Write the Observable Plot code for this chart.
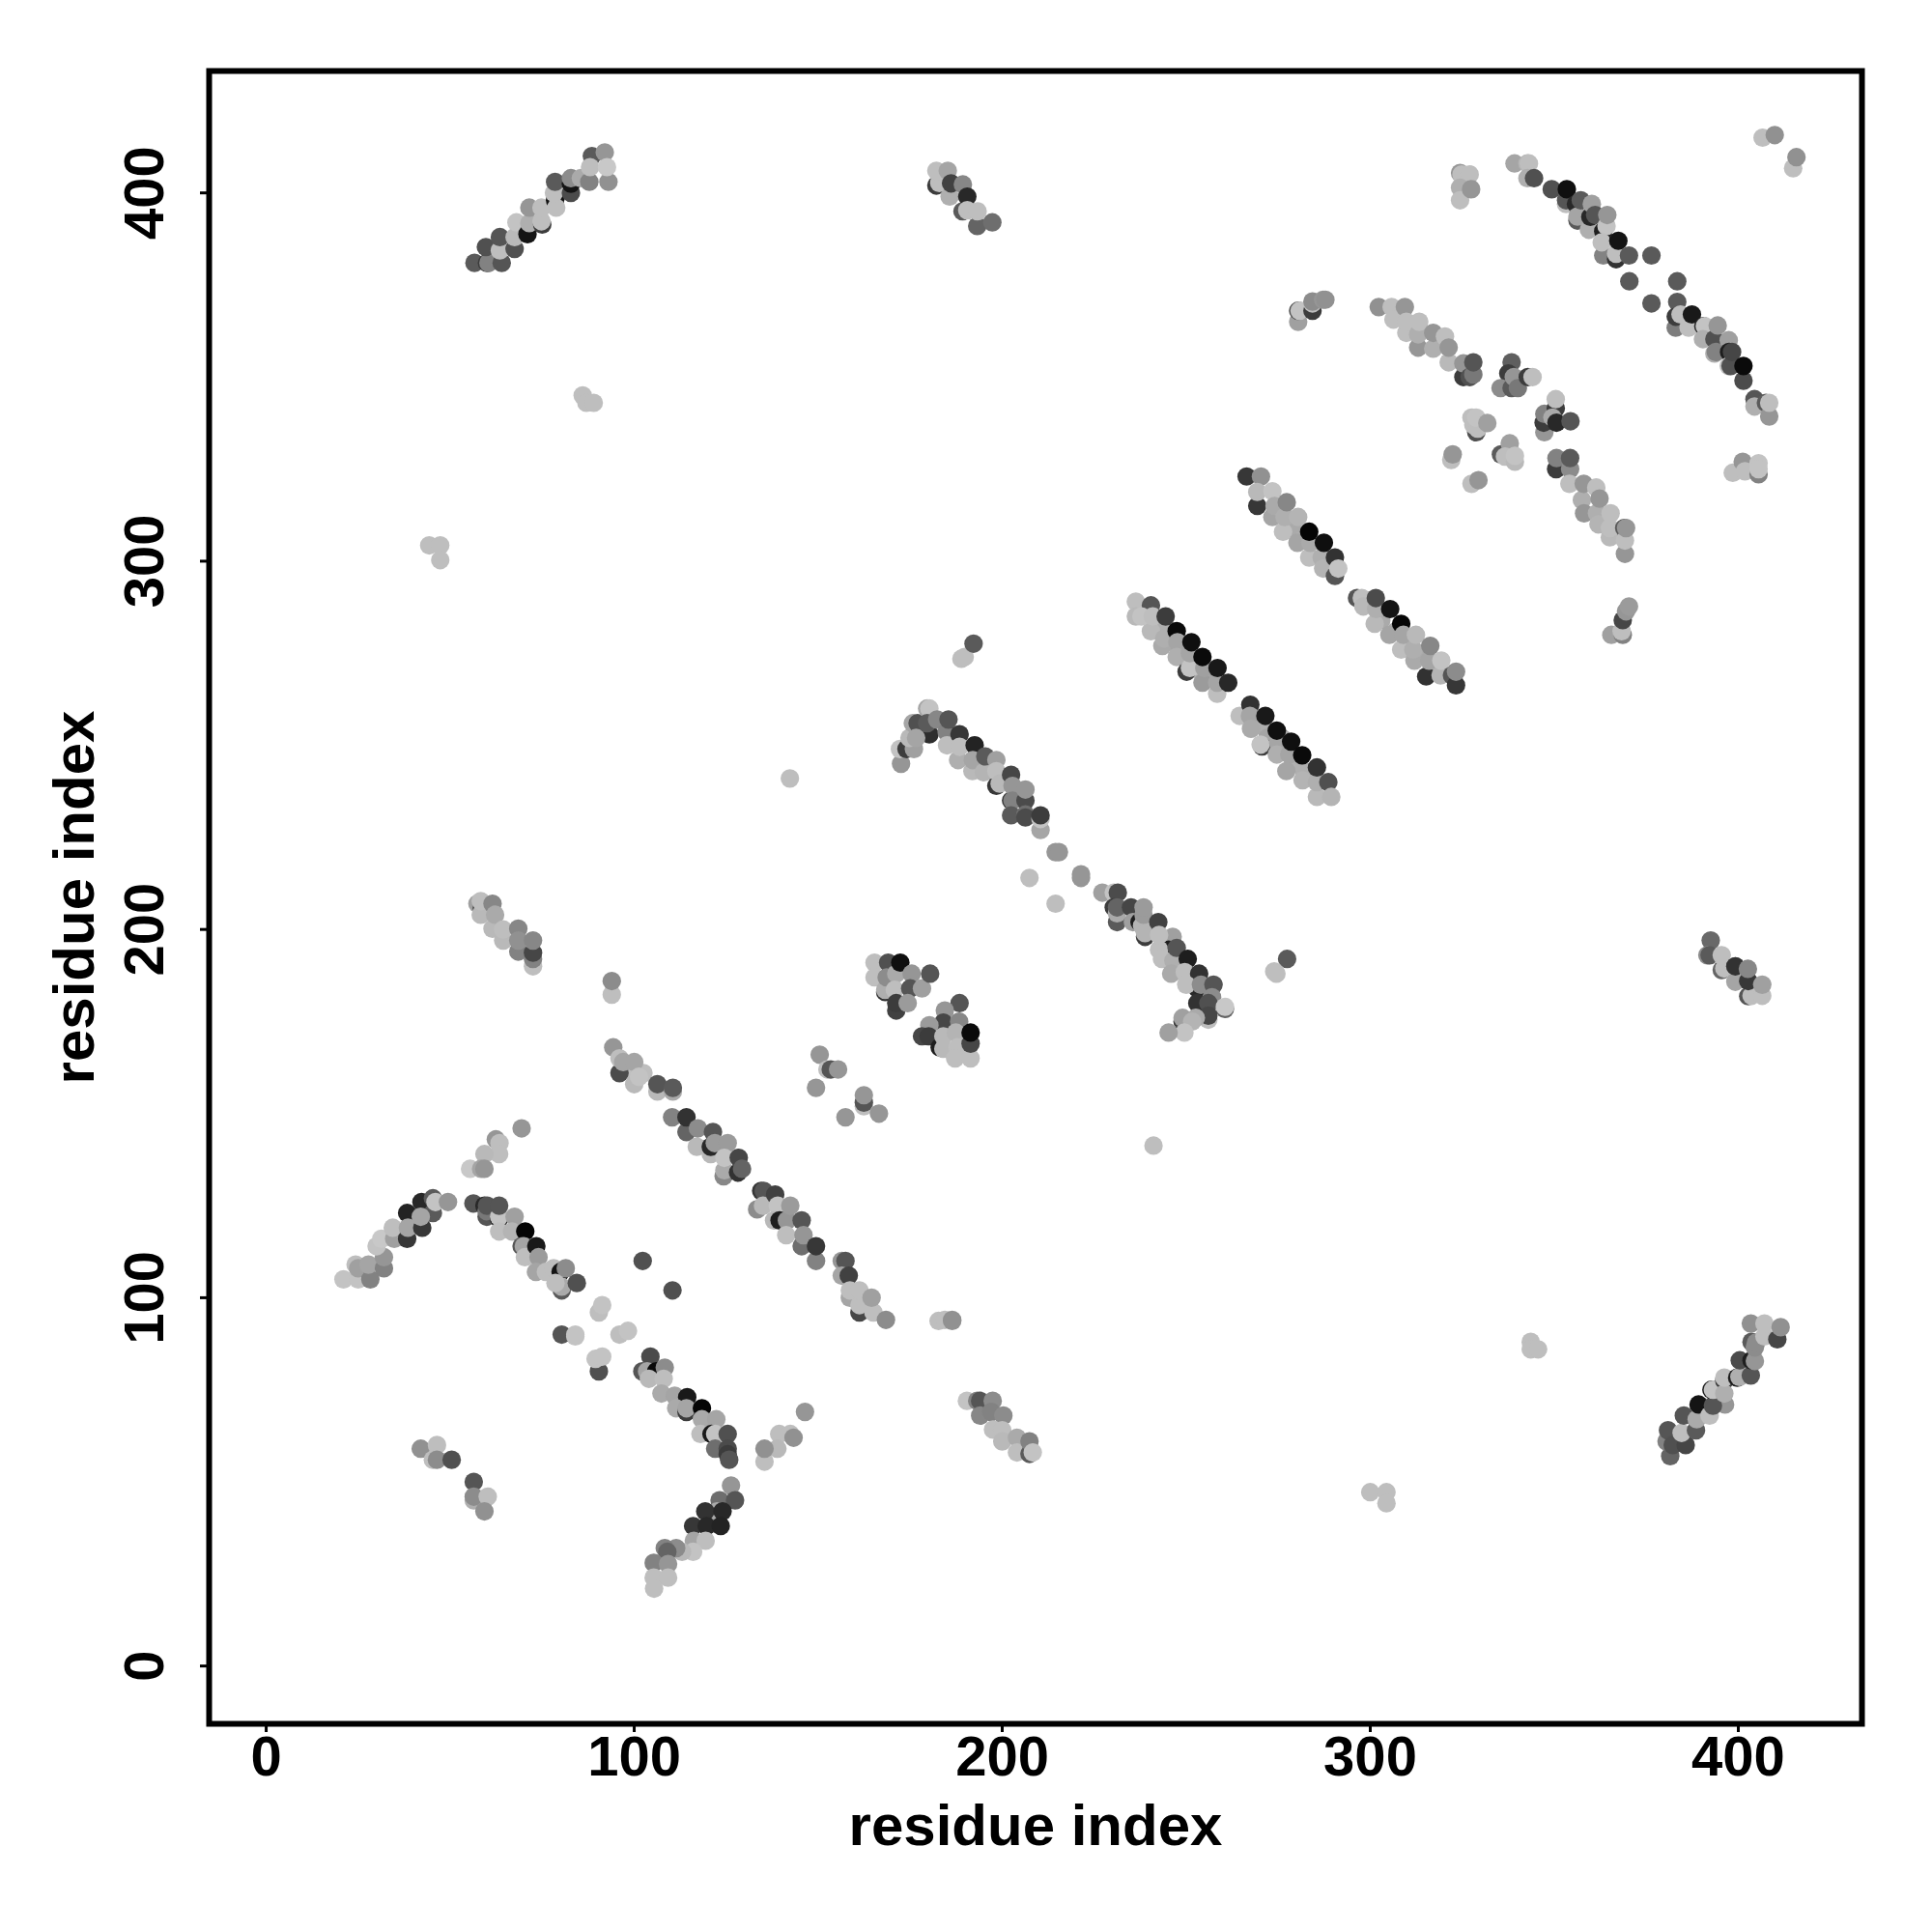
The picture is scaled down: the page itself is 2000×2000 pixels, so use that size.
<!DOCTYPE html>
<html><head><meta charset="utf-8">
<script src="https://cdn.jsdelivr.net/npm/d3@7"></script>
<script src="https://cdn.jsdelivr.net/npm/@observablehq/plot@0.6"></script>
<style>html,body{margin:0;padding:0;background:#fff}</style>
</head><body><div id="chart"></div>
<script>
// each contact: [residue i, residue j, grey level of the contact (0 black .. 255 white)]
const helixRise=[[21,105,195],[25,105,195],[24.3,109,190],[25,108,160],[28.3,105,130],[27.8,109,165],[32,108,130],[32,111,150],[30,114,195],[31.3,116,200],[34.8,116,160],[34.4,119,190],[38.3,116,55],[38.3,123,35],[38.5,119,165],[42.4,119,55],[42.2,126,40],[45.3,123,90],[42,122,165],[45.3,127,90],[46,126,195],[49.4,126,150]];
const riseB=[[69.4,146,150],[62.4,143,150],[63.4,142,190],[63.3,139,190],[59.3,139,185],[55.4,135,200],[58.4,135,165],[59.3,135,150]];
const fallC=[[56.3,125.6,85],[59.3,125,40],[59.9,122,85],[59.9,123.5,120],[60,125,85],[63.3,121.5,30],[63.3,122,195],[63.3,125,85],[63.3,118,190],[67.5,122,160],[66.8,118,180],[70.4,118,5],[69.4,114,85],[70,114,165],[70.3,111,190],[73.4,114,25],[74,111,155],[73.3,107,165],[76,107,190],[78.1,108,190],[80,107,20],[81.4,108,140],[80.3,102,90],[80.3,103,170],[78.6,104,190],[84.4,104,80]];
const gapC=[[90.4,96,190],[91.3,98,195],[80.3,90,85],[84,90,195],[84,89.5,195],[96,90,190],[98.3,91,195],[90.4,80,80],[89.5,83.4,195],[91.3,84,195],[102.3,110,80],[110.4,102,80]];
const fallD=[[104.4,84,75],[102.2,80,85],[103.5,80,165],[106,80,10],[104,78,185],[108.3,81,140],[108,78,190],[107.4,74,170],[111,73.4,165],[114.4,73,25],[111.4,70,170],[114.2,69,60],[114.2,70,165],[118.4,70,5],[118.4,67,170],[122.3,67,165],[118,63,190],[121,63,25],[122,63,195],[122,59,110],[125.4,63,80],[125.4,59,75],[125.4,57.5,60],[125.8,56,85]];
const spotE=[[42,59,145],[46.4,60,190],[45.3,56,190],[46.4,56,140],[50.4,56,80],[56.4,50,85],[56.4,45,175],[56.4,46,140],[60.2,46,190],[59.3,42,145]];
const riseF=[[126.3,49,150],[123.2,45,110],[122.5,42,170],[119.3,42,50],[127.4,45,85],[124,42,40],[116,38,55],[119.7,38,40],[123.5,38,35],[116.2,34,165],[119.4,34,190],[116,31,195],[113,31,185],[111.4,32,140],[108.3,32,130],[109,31,100],[105.3,28,130],[109.2,27.7,150],[105.3,24,190],[109.2,24,190],[105.4,21,190]];
const riseG=[[146.4,69,150],[139.4,63,190],[142.4,63,190],[143.3,62,145],[138.9,59,185],[135.4,55.5,190],[135.4,59,145]];
const fallH=[[100,161,190],[102.5,161,190],[94.3,168,150],[96,161,75],[96,165,190],[97,164,165],[100,164,165],[100,158,185],[101.3,160,195],[106.3,156,185],[106.3,158,85],[110.5,156,170],[110.5,157,90],[110.3,149,130],[114.2,145,100],[114.2,149,50],[117,141,185],[117.3,146,140],[120.8,139,185],[120.8,141,40],[121.4,145,85],[121.9,142,155],[125.4,142,155],[124.3,133,135],[124.5,134.6,170],[124.5,138,195],[128.2,134,50],[128.4,138,70],[129.3,135,100]];
const fallI=[[133.4,124,140],[134.5,129,55],[135.2,129,85],[135,125,185],[138.3,128,65],[139,125,195],[138,121,185],[139.5,121,30],[141.5,121,150],[142.4,125,155],[141.3,117,190],[145.5,121,85],[145.5,114,110],[146,117,150],[149.4,110,130],[149.4,114,55]];
const fallJ=[[156.4,110,150],[157.4,110,85],[156.4,106,165],[158.3,106,65],[158.6,100,165],[158.6,102,190],[161.2,96,70],[165,96,190],[161.2,98,190],[161.2,102,190],[164.5,100,160],[168.4,94,140]];
const spotK=[[182.7,93.7,190],[184.4,94,190],[186.4,94,145],[186.4,93.7,145]];
const fallL=[[190.4,72,195],[193.2,72,130],[194,72,85],[197.4,72,140],[194,68,135],[197,69,130],[200.3,68,140],[197.5,64.2,190],[200,64,190],[200,61,185],[204,62,170],[204,58,190],[207.4,57.6,90],[207.4,61,130],[208.3,58,195]];
const spotM=[[150.4,166,150],[152.5,162,190],[153.4,162,85],[155.4,162,150],[149.4,157,150],[162.4,152,190],[162.4,153,85],[162.4,155,150],[157.4,149,150],[166.5,150,150]];
const blockN=[[165.3,191,190],[165.3,187,190],[168.2,183,50],[168.2,183.6,175],[169,191,80],[168.6,187,140],[171.2,188,170],[170.8,183.6,190],[172.3,191,15],[175.4,188,150],[171.2,178,65],[171.2,180,60],[175,184,85],[178.2,184,160],[180.4,188,85],[174.3,180,155]];
const blockO=[[188.4,180,85],[184.4,178,150],[184,174.7,70],[188.3,175,135],[180.2,174,155],[178.2,171,70],[180,171,60],[183,168,30],[184,171,185],[184,167.6,185],[187.4,172,180],[187.9,168,190],[187.2,165,190],[191.4,165,190],[191.4,169,70],[191.4,172,10]];
const fallP=[[172.5,245,150],[172.2,249,195],[174,249,60],[176,249,160],[174.8,252,185],[175.7,256,165],[177,256,80],[179.6,260,165],[180.2,260,195],[180.2,253,45],[179.6,256,90],[176.6,252,165],[182.3,257,135],[184.9,253.6,130],[185.4,257,85],[185,250,190],[188.4,253,55],[188,246,175],[188.4,249.6,190],[192.5,250,35],[191.9,243,185],[192,246,165],[195,242.7,180],[195.4,247,90],[198.4,239,55],[198.4,246,160],[198.4,243,190],[199.3,239.6,185],[202.4,242,70],[202.4,235,60],[202.8,239,150],[202.8,235,130],[202.4,231,90],[206.3,235,75],[206.3,238,150],[206.3,231.2,110],[206.3,230.4,75],[210.4,227,165],[210.4,230,195],[210.4,231,60]];
const spotQ=[[214.5,221,150],[215.4,221,150],[221.4,214,150],[221.4,215,150],[207.4,214,190],[214.5,207,190]];
const fallR=[[227.2,210,160],[230.3,210,195],[231.4,210,75],[230.3,206,60],[231.2,202,90],[231.2,204.4,170],[231.2,206,100],[235,206,70],[235.5,202,160],[237.3,202,30],[238,201,180],[238.4,204,155],[238.4,206,155],[238.8,198,60],[238.8,199,180],[242.4,202,65],[246.3,198,160],[245.2,194.5,30],[242.6,194.5,190],[243.4,192,190],[242.6,198.5,190],[246.5,191.5,175],[247.4,195,85],[250.4,192,30],[245.9,188,170],[249.6,188.4,190],[253.5,188,50],[253,184,40],[250,185,190],[254,185,140],[257.4,185,85],[253,180,50],[257,181.6,140],[256,180,80],[260.5,178.4,100],[260.5,179,200],[256,175.5,190],[256,176.6,70],[249,175,60],[249,176,160],[252.6,176,170],[251.6,175,180],[249.5,172,195],[245.2,172,160]];
const spotS=[[277.4,192,90],[273.9,188.6,190],[274.5,188,190]];
const strandT=[[244.5,282,175],[248,276,170],[252,272,175],[256,269,165],[254,270,180],[236.3,289,190],[236.3,285,185],[240.4,288,85],[240.4,281,185],[237.8,285,195],[240.9,285,190],[244.4,285,60],[243.5,277,170],[244,279,175],[247.4,281,10],[247.6,278,165],[247.4,274,175],[250.1,270,60],[251,271,195],[251,275,165],[251.4,278,15],[254.4,267,155],[254.9,271,160],[254.4,274,10],[258.4,264,190],[258.4,267,165],[258.5,271,25],[261.4,267,40]];
const strandU=[[271,255,175],[272,252,165],[276,252,170],[279,245,175],[282,243,175],[264.5,258,190],[267.4,261,50],[267.3,258,165],[267.6,254.5,170],[271.5,258,25],[270.6,249.7,60],[270.2,250.2,195],[275,250.6,165],[274.6,247.5,175],[274.6,254,15],[278,247.5,165],[277.2,243,165],[278.5,251,15],[281.6,240.5,180],[281.5,247.3,10],[285.5,236,185],[285.5,240,175],[285.5,244,50],[288.6,240,80],[289.4,236,180]];
const strandV=[[276,313,165],[279,309,170],[282,306,175],[266.4,323,55],[270.3,323,145],[269.3,315,55],[269.3,318.8,185],[273.4,319,195],[273.4,312,165],[274,315,170],[276.3,308,190],[276.7,312,175],[277.3,316,135],[280.2,305,165],[280.4,312,180],[283.4,301,190],[283.7,305,170],[283.4,308,5],[286.8,301,175],[287.4,305,15],[287.2,298,180],[290.4,296,85],[290.4,301,50],[291.3,298,195]];
const strandW=[[303,284,170],[307,281,170],[310,278,175],[314,275,170],[318,271,175],[296.4,290,85],[297.7,290,190],[298.1,287.7,185],[301.2,283,185],[301.6,287,175],[301.5,290,75],[305.2,280,165],[305.4,287,20],[308.4,276,190],[308.4,283,5],[309,280,165],[312,273,170],[311.7,276,175],[312.4,280,185],[315.2,268.7,50],[316,273,165],[316.3,277,135],[319.1,269,180],[319.3,273,195],[322.2,269,85],[323.3,266.3,55],[323.3,270,140]];
const spotX=[[280.4,365,160],[280.4,368,80],[280.8,368,195],[284.3,368,60],[284.3,370,190],[284.3,370.5,140],[287.2,371,150],[287.8,371,145]];
const fallY=[[302.3,369,145],[305.8,369,190],[306.3,365.6,190],[309.4,369,150],[309.8,362,190],[309.8,365,190],[313,358,150],[313,361.6,175],[313.3,365,190],[317.1,357.7,175],[317.1,362,150],[320.3,361,190],[321.3,354,185],[321.3,358,150],[325.3,350,60],[325.3,353.7,150],[327,350,80],[328,350.7,120],[328,354,85]];
const blockZ=[[338.4,354,95],[337.5,351,60],[335.4,347,140],[338.4,347,90],[339,350,150],[340.1,347,120],[342.8,350,60],[344.1,350,190]];
const blockAA=[[347.3,335,150],[347.1,337.6,60],[347.3,340,130],[350.4,341.5,60],[350.4,344,190],[349.5,339,170],[350.6,337.6,40],[354.4,338,85]];
const lightAB=[[328.8,335,80],[327.5,339,190],[328,337,190],[329.2,336,190],[328.8,339,195],[331.8,337.5,160],[322,327.5,190],[322.4,329,150],[327.5,321,190],[329.4,322,150],[335.5,329,90],[337.9,332,160],[336.6,328.4,190],[339.3,327,185],[339.3,328.6,195]];
const blockAC=[[350.5,325,60],[350.6,328,130],[354.3,325,140],[354.3,328,90]];
const fallAD=[[354.1,321,190],[357.5,316.6,175],[358.1,313,150],[358,321,150],[361.6,313,175],[362,310,180],[361.4,320,190],[362.3,317,150],[365.1,306.5,185],[365.1,309,190],[365.3,313,190],[369,309,90],[369.2,302,150],[369.2,305.6,190],[369.5,309,150]];
const spotAE=[[365.5,280,160],[368.6,280,130],[368.3,281,190],[368.6,284,70],[369.5,286.4,150],[370.3,287.7,155]];
const spotAF=[[324.4,405.4,150],[324.8,405,190],[327,405,190],[324.4,401.4,175],[324.4,398,190],[327.4,401,150]];
const fallAG=[[339.2,408,165],[342.7,408,180],[343.1,408,190],[342.7,404,175],[344.5,404,80],[349.3,401,80],[353.2,397,190],[353.2,398,85],[353.4,401,15],[355.9,397,40],[356.3,392.5,90],[356.3,393.6,165],[357.2,398,90],[359.4,390,175],[359.8,393.5,40],[360.2,397,160],[361.1,394,85],[363.3,389.6,30],[364.2,391,195],[364.4,394,150],[363.3,383,130],[362.9,386.6,190],[366.8,382,50],[366.8,383.5,190],[367.4,387,20],[370.3,383,90],[376.4,383,90],[370.4,376,90],[383.4,376,90],[376.4,370,90],[383.4,370.4,90]];
const fallAH=[[383,363.4,125],[383,366.4,60],[384.3,367,190],[386.5,363.4,190],[387.4,367,25],[390.5,363.8,40],[390.9,363.8,195],[390.4,360.3,175],[393.5,360.3,80],[394.4,364,150],[393.5,356.4,175],[393.9,356.8,130],[397.4,360,160],[397.5,356.8,30],[397.4,353,190],[397.9,353,80],[398.3,356.8,70],[401.4,349,75],[401.4,353,10]];
const spotAI=[[404.4,344,85],[404.4,342,175],[407.5,343,90],[408.4,339.3,150],[408.4,343,190]];
const spotAJ=[[398.5,324,190],[401.2,327,150],[401.8,324.4,190],[405.5,323.6,130],[405.5,326.6,195],[405.5,325,195],[406.6,415,190],[409.9,415.7,145],[414.9,406.7,190],[415.8,409.7,145]];
const riseAK=[[56.6,381,90],[60,381,60],[60.4,381,130],[64,381,85],[59.7,385.3,80],[63.5,384.4,190],[63.5,388,85],[67.5,384.8,80],[67.5,388,185],[68,392,195],[71,388.8,20],[71.5,391.8,175],[71.5,396,150],[75,391.4,60],[74.8,392.3,190],[74.8,396,190],[78.5,398,20],[78.8,396,190],[78.2,400,190],[78.5,403,90],[82.8,400,75],[82.8,402.5,20],[82.8,404,140],[85.5,404,170],[87.8,403,130],[88.5,410,90],[88,407,190],[93,403,145],[92,411,150],[92.6,407,200]];
const fallAL=[[182.1,402,60],[182.9,402.7,190],[182.1,406,190],[185.2,406,165],[185.7,399,175],[186.1,402.6,65],[189.3,402.3,135],[189.2,395,90],[190.5,399,40],[190.5,395.3,190],[193.2,391,100],[193.3,395,190],[197.3,392,110]];
const riseAM=[[381.5,57,100],[380.5,61,130],[380.9,64,85],[382.2,60,80],[385.7,60,70],[384.6,63.3,190],[385.2,68,85],[388.5,64,90],[388.7,67,170],[389.2,71,20],[396.4,71,150],[392.2,68,190],[393.1,70.7,85],[392.7,75,30],[393.1,75,195],[396.2,77.5,60],[396.2,74,175],[396.2,78.3,190],[399.7,78.3,30],[400.3,78.5,175],[403.4,78.9,85],[400.4,83,75],[403.6,83,30],[404.5,82.8,150],[403.6,88,90],[404.5,86.5,140],[404.8,87.8,140],[403.4,93,145],[407.1,89.5,190],[410.6,88.7,70],[407.1,93,190],[411.5,92,145]];
const fallAN=[[392.5,197,105],[391.6,193,140],[392.2,193,90],[395.5,189,100],[396.2,189.4,190],[395.5,193,190],[399.2,190,130],[399.2,185.8,165],[399.2,190,50],[402.7,181.9,85],[403.6,182,190],[402.7,186,55],[402.6,189.3,135],[406.5,182,190],[406.5,185,160]];
const fallAO=[[57.4,207,160],[58.6,205.8,70],[58.3,204,185],[58.3,207.7,190],[61.5,207,135],[61.5,200.2,185],[62.2,204,170],[64.4,197,185],[64.4,200,190],[68.5,194,130],[68.5,200.2,135],[68.5,197,145],[72.5,190,190],[72.5,192,130],[72.5,193.7,70],[72.5,197,135],[93.9,182.3,190],[93.9,186,140]];
const outliers=[[44.3,304.3,190],[47.3,304.3,190],[47.3,300.3,190],[86,345,190],[87,343,190],[89,343,190],[142.3,241,190],[188.9,273.5,190],[189.8,274,190],[192.2,277.6,90],[241.1,141.3,190],[343.6,88,190],[343.6,86,190],[345.6,86,190],[300,47.2,190],[304.4,47.2,190],[304.4,44.2,190]];

const contacts=[helixRise,riseB,fallC,gapC,fallD,spotE,riseF,riseG,fallH,fallI,fallJ,spotK,fallL,spotM,blockN,blockO,fallP,spotQ,fallR,spotS,strandT,strandU,strandV,strandW,spotX,fallY,blockZ,blockAA,lightAB,blockAC,fallAD,spotAE,spotAF,fallAG,fallAH,spotAI,spotAJ,riseAK,fallAL,riseAM,fallAN,fallAO,outliers].flat();
const ticks=[0,100,200,300,400];
const axisLabel="residue index";

const chart=Plot.plot({
  width:2000,height:2000,
  marginLeft:216,marginRight:73,marginTop:73,marginBottom:216,
  style:{fontFamily:"'Liberation Sans',Arial,sans-serif",fontWeight:"bold",background:"#fff",color:"#000",overflow:"visible"},
  x:{domain:[-15.5,433.6],ticks},
  y:{domain:[-15.7,433.1],ticks},
  color:{type:"linear",domain:[0,255],range:["#000","#fff"]},
  marks:[
    Plot.dot(contacts,{x:d=>d[0],y:d=>d[1],r:9.6,fill:d=>d[2],stroke:"none"}),
    Plot.frame({stroke:"#000",strokeWidth:6}),
    Plot.axisX({ticks,tickSize:9,tickPadding:3,fontSize:58,strokeWidth:3,label:null}),
    Plot.axisY({ticks,tickSize:9,tickPadding:39,fontSize:58,strokeWidth:3,tickRotate:-90,textAnchor:"middle",label:null}),
    Plot.text([axisLabel],{frameAnchor:"bottom",dy:125,fontSize:60,fontWeight:"bold",fill:"#000",lineAnchor:"bottom"}),
    Plot.text([axisLabel],{frameAnchor:"left",dx:-139,rotate:-90,textAnchor:"middle",fontSize:60,fontWeight:"bold",fill:"#000"})
  ]
});
document.getElementById("chart").appendChild(chart);
</script></body></html>
